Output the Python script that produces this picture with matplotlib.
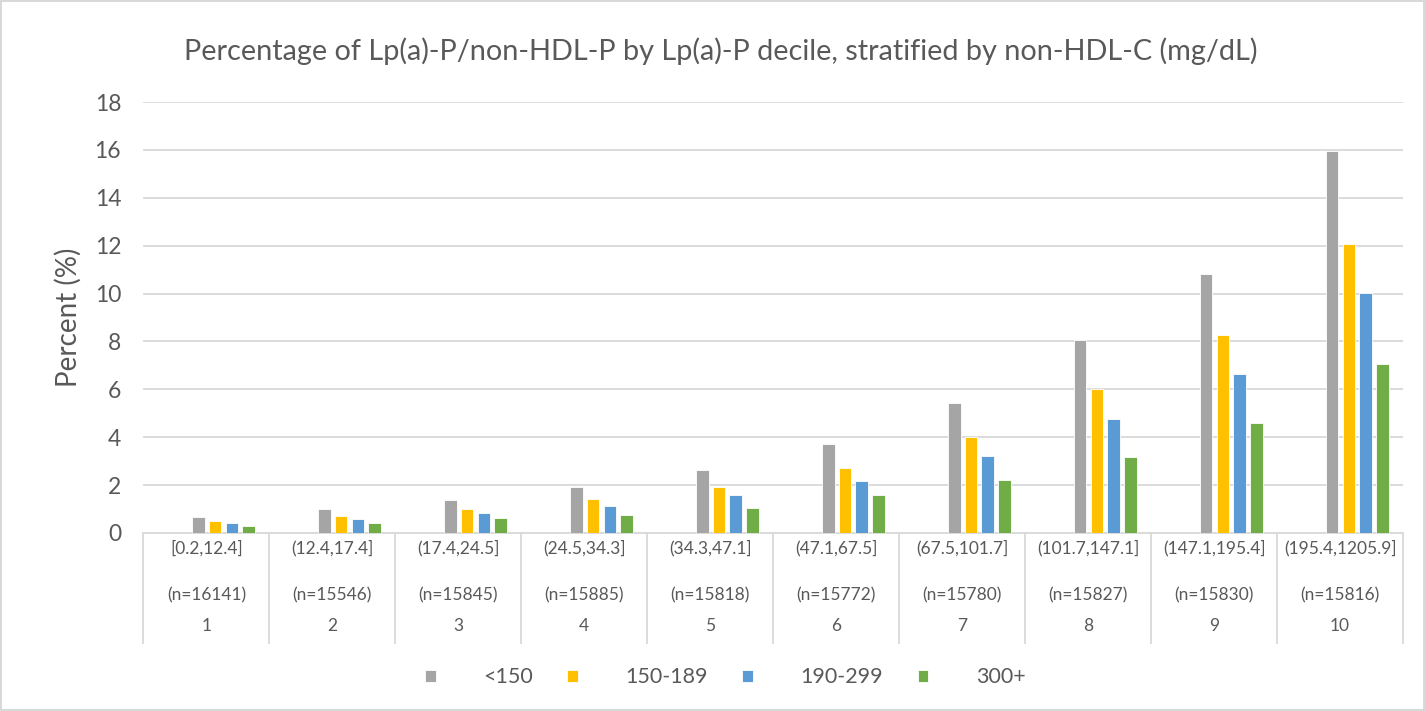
import numpy as np
import matplotlib.pyplot as plt
from matplotlib.lines import Line2D

# data
intervals = ["[0.2,12.4]", "(12.4,17.4]", "(17.4,24.5]", "(24.5,34.3]", "(34.3,47.1]",
             "(47.1,67.5]", "(67.5,101.7]", "(101.7,147.1]", "(147.1,195.4]", "(195.4,1205.9]"]
counts = ["(n=16141)", "(n=15546)", "(n=15845)", "(n=15885)", "(n=15818)",
          "(n=15772)", "(n=15780)", "(n=15827)", "(n=15830)", "(n=15816)"]
deciles = [str(i) for i in range(1, 11)]

series_names = ["<150", "150-189", "190-299", "300+"]
lt150 = [0.68, 0.99, 1.37, 1.91, 2.63, 3.70, 5.43, 8.05, 10.82, 15.95]
s150_189 = [0.50, 0.71, 1.00, 1.42, 1.92, 2.72, 4.02, 6.02, 8.25, 12.09]
s190_299 = [0.40, 0.58, 0.82, 1.13, 1.57, 2.17, 3.20, 4.78, 6.62, 10.01]
s300 = [0.29, 0.42, 0.61, 0.75, 1.06, 1.60, 2.23, 3.17, 4.60, 7.05]
colors = ["#A5A5A5", "#FFC000", "#5B9BD5", "#70AD47"]

text_color = "#595959"
grid_color = "#D9D9D9"
plt.rcParams['font.family'] = ['Lato', 'DejaVu Sans']

fig = plt.figure(figsize=(14.25, 7.11), dpi=100)
fig.patch.set_edgecolor(grid_color)
fig.patch.set_linewidth(1.5)
ax = fig.add_axes([0.1006, 0.2504, 0.8840, 0.6061])

x = np.arange(len(intervals))
width = 0.10
offsets = [-0.063, 0.070, 0.203, 0.336]
for vals, off, c, name in zip([lt150, s150_189, s190_299, s300], offsets, colors, series_names):
    ax.bar(x + off, vals, width=width, color=c, edgecolor="white", linewidth=0.6,
           label=name, zorder=3)

ax.set_xlim(-0.5, len(intervals) - 0.5)
ax.set_ylim(0, 18)
ax.set_yticks(np.arange(0, 19, 2))
ax.yaxis.grid(True, color=grid_color, linewidth=1.3, zorder=0)
ax.tick_params(axis="y", length=0, labelsize=16.5, labelcolor=text_color, pad=16)
ax.set_xticks([])
for side in ["top", "right", "left"]:
    ax.spines[side].set_visible(False)
ax.spines["bottom"].set_color(grid_color)
ax.spines["bottom"].set_linewidth(1.3)
ax.set_ylabel("Percent (%)", fontsize=20, color=text_color, labelpad=9)

# multi-level category axis
trans = ax.get_xaxis_transform()
for i in range(len(intervals)):
    ax.text(i, -0.035, intervals[i], transform=trans, ha="center", va="center",
            fontsize=12.5, color=text_color)
    ax.text(i, -0.145, counts[i], transform=trans, ha="center", va="center",
            fontsize=12.5, color=text_color)
    ax.text(i, -0.215, deciles[i], transform=trans, ha="center", va="center",
            fontsize=12.5, color=text_color)
for b in np.arange(-0.5, len(intervals), 1.0):
    ax.add_line(Line2D([b, b], [0, -0.255], transform=trans, color=grid_color,
                       linewidth=1.3, clip_on=False))

fig.suptitle("Percentage of Lp(a)-P/non-HDL-P by Lp(a)-P decile, stratified by non-HDL-C (mg/dL)",
             x=0.506, y=0.947, fontsize=20.8, color=text_color)

leg = ax.legend(loc="center", bbox_to_anchor=(0.462, -0.335), ncol=4, frameon=False,
                fontsize=15.5, handlelength=0.5, handleheight=0.5, handletextpad=2.2,
                columnspacing=1.6, labelcolor=text_color)

fig.savefig("out.png", dpi=100)
